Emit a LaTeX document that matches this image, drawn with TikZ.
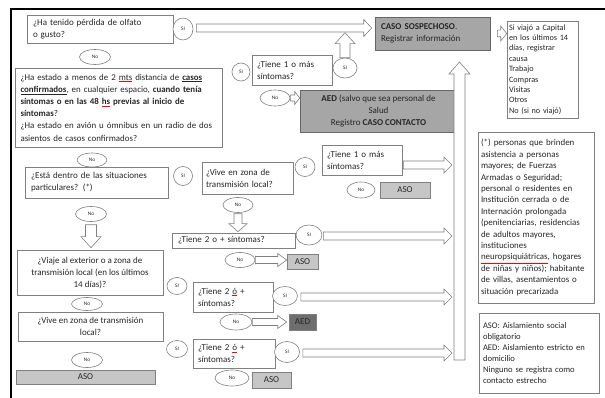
\documentclass[tikz,border=0pt]{standalone}
\usepackage{fontspec}
\setmainfont{Carlito}
\usetikzlibrary{calc,shapes.geometric}
\definecolor{bord}{HTML}{808080}
\definecolor{txt}{HTML}{262626}
\definecolor{gfill}{HTML}{A6A6A6}
\definecolor{lfill}{HTML}{C6C6C6}
\definecolor{dfill}{HTML}{6E6E6E}
\newcommand\redul[1]{{\color{red}\underline{\color{txt}#1}}}
\newcommand\blockarrow[5]{%
  \coordinate (ba) at ($(#2)!#5!(#1)$);
  \draw[harrow] ($(#1)!#3!90:(#2)$) -- ($(ba)!#3!90:(#2)$) -- ($(ba)!#4!90:(#2)$) -- (#2) -- ($(ba)!#4!-90:(#2)$) -- ($(ba)!#3!-90:(#2)$) -- ($(#1)!#3!-90:(#2)$) -- cycle;}
\begin{document}
\begin{tikzpicture}[x=1pt,y=-1pt,
  box/.style={draw=bord, fill=white, line width=0.6pt, inner sep=0pt, text=txt,
    font=\fontsize{9}{12}\selectfont, align=left},
  gbox/.style={box, fill=gfill, draw=bord!80!black},
  lbox/.style={box, fill=lfill, align=center},
  dims/.style 2 args={minimum width=#1, minimum height=#2},
  ell/.style={ellipse, draw=bord, fill=white, line width=0.6pt, inner sep=0pt, text=txt,
    font=\fontsize{5.3}{6}\selectfont},
  harrow/.style={draw=bord, fill=white, line width=0.6pt, line join=miter}]
\useasboundingbox (0,0) rectangle (605,398);
\fill[white] (0,0) rectangle (605,398);
\draw[line width=2.2pt] (605,9) -- (11,9) -- (11,398);

% top rows
\node[box, dims={146pt}{28pt}, text width=134pt] (q1) at (100,29) {¿Ha tenido pérdida de olfato\\o gusto?};
\node[ell, dims={20pt}{22pt}] (si1) at (183,29) {SI};
\node[ell, dims={31pt}{15pt}] (no1) at (95,57) {No};
\node[box, dims={207pt}{79pt}, text width=196pt, font=\fontsize{8.9}{12.2}\selectfont] (q2) at (118.5,107.5) {¿Ha estado a menos de 2 \redul{mts} distancia de \underline{\textbf{casos}}\\
\underline{\textbf{confirmados}}, en cualquier espacio, \textbf{cuando tenía}\\
\textbf{síntomas o en las 48 \redul{hs} previas al inicio de}\\
\textbf{síntomas}?\\
¿Ha estado en avión u ómnibus en un radio de dos\\
asientos de casos confirmados?};
\node[ell, dims={18pt}{18pt}] (si2) at (241,72) {SI};
\node[box, dims={80pt}{30pt}, text width=70pt] (q3) at (292,70) {¿Tiene 1 o más\\síntomas?};
\node[ell, dims={24pt}{20pt}] (si3) at (345,68) {SI};
\node[ell, dims={30pt}{16pt}] (no2) at (275,98) {No};
\node[gbox, dims={157pt}{42pt}, align=center] (aed1) at (378.5,111) {\textbf{AED} (salvo que sea personal de\\Salud\\Registro \textbf{CASO CONTACTO}};
\node[gbox, dims={115pt}{33pt}, text width=103pt] (caso) at (432.5,33.5) {\textbf{CASO SOSPECHOSO}.\\Registrar información};
\node[box, dims={71pt}{97pt}, text width=67pt, font=\fontsize{8.2}{10.4}\selectfont] (siv) at (542.5,69.5) {Si viajó a Capital\\en los últimos 14\\días, registrar\\causa\\Trabajo\\Compras\\Visitas\\Otros\\No (si no viajó)};

% middle rows
\node[ell, dims={30pt}{14pt}] (no3) at (92,160) {No};
\node[box, dims={143pt}{31pt}, text width=131pt] (q4) at (96.5,182.5) {¿Está dentro de las situaciones\\particulares? (*)};
\node[ell, dims={19pt}{19pt}] (si4) at (183,176) {SI};
\node[box, dims={91pt}{32pt}, text width=83pt] (q5) at (247.5,178) {¿Vive en zona de\\transmisión local?};
\node[ell, dims={20pt}{19pt}] (si5) at (305,167) {SI};
\node[box, dims={80pt}{30pt}, text width=70pt] (q6) at (362,160) {¿Tiene 1 o más\\síntomas?};
\node[ell, dims={28pt}{16pt}] (no4) at (361,190) {No};
\node[lbox, dims={50pt}{16pt}] (aso1) at (405,190) {ASO};
\node[ell, dims={30pt}{15pt}] (no5) at (238,205) {No};
\node[box, dims={123pt}{15pt}, text width=111pt] (q7) at (233.5,240.5) {¿Tiene 2 o + síntomas?};
\node[ell, dims={26pt}{20pt}] (si6) at (309,235) {SI};
\node[ell, dims={30pt}{15pt}] (no6) at (240,260) {No};
\node[lbox, dims={31pt}{15pt}] (aso2) at (302.5,262) {ASO};

% lower rows
\node[ell, dims={31pt}{15pt}] (no7) at (91,214) {No};
\node[box, dims={146pt}{45pt}, align=center] (q8) at (90,272.5) {¿Viaje al exterior o a zona de\\transmisión local (en los últimos\\14 días)?};
\node[ell, dims={20pt}{17pt}] (si7) at (177,286) {SI};
\node[box, dims={80pt}{30pt}, text width=70pt] (q9) at (233,297) {¿Tiene 2 \redul{ó} +\\síntomas?};
\node[ell, dims={25pt}{19pt}] (si8) at (285,296) {SI};
\node[ell, dims={32pt}{16pt}] (no8) at (236,322) {No};
\node[box, fill=dfill, align=center, dims={27pt}{16pt}] (aed2) at (302.5,322) {AED};
\node[ell, dims={31pt}{13pt}] (no9) at (87,304) {No};
\node[box, dims={145pt}{29pt}, align=center] (q10) at (90.5,326.5) {¿Vive en zona de transmisión\\local?};
\node[ell, dims={21pt}{17pt}] (si9) at (177,349) {SI};
\node[box, dims={82pt}{29pt}, text width=72pt] (q11) at (234,353.5) {¿Tiene 2 \redul{ó} +\\síntomas?};
\node[ell, dims={25pt}{21pt}] (si10) at (287,352) {SI};
\node[ell, dims={34pt}{16pt}] (no10) at (232,378) {No};
\node[lbox, dims={39pt}{16pt}] (aso3) at (271.5,380) {ASO};
\node[ell, dims={31pt}{15pt}] (no11) at (87,360) {No};
\node[lbox, dims={139pt}{14pt}] (aso4) at (85.5,377) {ASO};

% side notes
\node[box, dims={116pt}{171pt}, text width=110pt, font=\fontsize{8.9}{11.4}\selectfont] (foot) at (536,217.5) {(*) personas que brinden\\asistencia a personas\\mayores; de Fuerzas\\Armadas o Seguridad;\\personal o residentes en\\Institución cerrada o de\\Internación prolongada\\(penitenciarias, residencias\\de adultos mayores,\\instituciones\\\redul{neuropsiquiátricas}, hogares\\de niñas y niños); habitante\\de villas, asentamientos o\\situación precarizada};
\node[box, dims={120pt}{80pt}, text width=112pt, font=\fontsize{8.6}{11}\selectfont] (legend) at (539,353) {ASO: Aislamiento social\\obligatorio\\AED: Aislamiento estricto en\\domicilio\\Ninguno se registra como\\contacto estrecho};

% hollow arrows
\coordinate (barL) at (452,0);
\coordinate (barB) at (459.5,360);
\coordinate (barT) at (459.5,62);
\blockarrow{barB}{barT}{5.5pt}{10.5pt}{12pt}

\coordinate (a2e) at ($(si3.north)+(0,-25)$);
\blockarrow{si3.north}{a2e}{5pt}{10pt}{11pt}
\coordinate (a1s) at ($(si1.east)+(3,-1)$);
\coordinate (a1e) at ($(caso.west |- a1s)+(-3,0)$);
\blockarrow{a1s}{a1e}{4pt}{8.5pt}{8pt}

\coordinate (a3s) at ($(caso.east)+(7,0)$);
\coordinate (a3e) at (siv.west |- a3s);
\blockarrow{a3s}{a3e}{3.3pt}{7.5pt}{6pt}

\coordinate (a4e) at (aed1.west |- no2.east);
\blockarrow{no2.east}{a4e}{3pt}{6.5pt}{5pt}

\coordinate (a5s) at ($(q6.east)+(1,5)$);
\coordinate (a5e) at (a5s -| barL);
\blockarrow{a5s}{a5e}{4pt}{8pt}{8pt}

\coordinate (a6s) at ($(si6.east)+(1,1)$);
\coordinate (a6e) at (a6s -| barL);
\blockarrow{a6s}{a6e}{4pt}{8pt}{8pt}

\coordinate (a8s) at ($(si8.east)+(3,1)$);
\coordinate (a8e) at (a8s -| barL);
\blockarrow{a8s}{a8e}{4pt}{8pt}{8pt}

\coordinate (a10s) at ($(si10.east)+(3,1)$);
\coordinate (a10e) at (a10s -| barL);
\blockarrow{a10s}{a10e}{4pt}{8pt}{8pt}

\coordinate (a7e) at (aso2.west |- no6.east);
\blockarrow{no6.east}{a7e}{3.5pt}{6.5pt}{9pt}

\coordinate (a9e) at ($(aed2.west |- no8.east)+(-2,0)$);
\blockarrow{no8.east}{a9e}{3.5pt}{6.5pt}{9pt}

\coordinate (d1s) at ($(no5.south)+(0,1)$);
\coordinate (d1e) at ($(d1s |- q7.north)+(0,-1)$);
\blockarrow{d1s}{d1e}{4pt}{9pt}{8pt}

\coordinate (d2s) at ($(no7.south)+(0,3)$);
\coordinate (d2e) at ($(d2s |- q8.north)+(0,-2)$);
\blockarrow{d2s}{d2e}{5.5pt}{10pt}{11pt}
\end{tikzpicture}
\end{document}
